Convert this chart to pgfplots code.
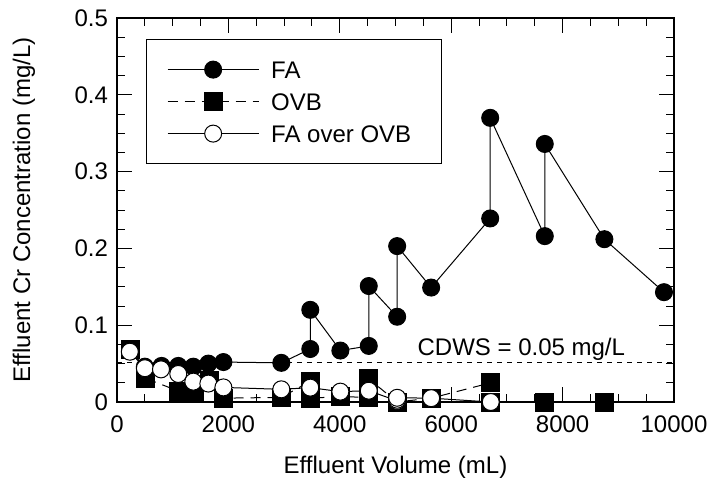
\documentclass[border=0pt]{standalone}
\usepackage{pgfplots}
\pgfplotsset{compat=1.18}
\usepackage{fontspec}
\setmainfont{Liberation Sans}

% FA column
\pgfplotstableread{
x y
240 0.066
500 0.046
800 0.047
1100 0.047
1370 0.046
1640 0.050
1910 0.052
2950 0.051
3470 0.069
3470 0.120
4010 0.067
4520 0.073
4520 0.151
5030 0.111
5030 0.203
5640 0.149
6700 0.239
6700 0.370
7680 0.216
7680 0.336
8750 0.212
9820 0.143
}\fa

% OVB column
\pgfplotstableread{
x y
240 0.069
510 0.031
1110 0.014
1400 0.013
1660 0.028
1910 0.005
2950 0.006
3470 0.027
3470 0.005
4020 0.007
4520 0.006
4520 0.030
5030 0.000
5640 0.005
6710 0.025
6710 0.000
7680 0.000
8750 0.000
}\ovb

% FA over OVB
\pgfplotstableread{
x y
230 0.0655
500 0.044
790 0.0425
1100 0.0365
1370 0.0265
1640 0.024
1910 0.019
2950 0.0165
3470 0.0187
4010 0.0135
4520 0.0147
5030 0.0015
5030 0.003
5030 0.0055
5640 0.005
6710 0.000
}\faovb

\begin{document}
\begin{tikzpicture}[font=\fontsize{12bp}{14bp}\selectfont]
\begin{axis}[
  scale only axis, width=278.5bp, height=192bp,
  xmin=0, xmax=10000, ymin=0, ymax=0.5,
  xtick={0,2000,4000,6000,8000,10000},
  xticklabels={0,2000,4000,6000,8000,10000},
  scaled x ticks=false, scaled y ticks=false,
  ytick={0,0.1,0.2,0.3,0.4,0.5},
  yticklabels={0,0.1,0.2,0.3,0.4,0.5},
  minor x tick num=3, minor y tick num=3,
  tick align=inside, major tick length=7.5bp, minor tick length=4bp,
  tick style={line width=0.5bp, black},
  axis line style={line width=0.6bp},
  /pgf/number format/assume math mode=true,
  xticklabel shift=3.5bp, yticklabel shift=1bp,
  xlabel={Effluent Volume (mL)},
  ylabel={Effluent Cr Concentration (mg/L)},
  xlabel style={at={(axis description cs:0.5,-0.185)}, anchor=base},
  ylabel style={at={(axis description cs:-0.156,0.5)}, anchor=base},
  clip=false,
  legend image code/.code={\draw[mark repeat=2,mark phase=2,#1] plot coordinates {(0bp,0bp) (22.75bp,0bp) (45.5bp,0bp)};},
  legend style={at={(axis description cs:0.052,0.945)}, anchor=north west,
    draw=black, line width=0.5bp, inner xsep=10.35bp, inner ysep=7bp,
    column sep=6bp, row sep=0pt,
    nodes={inner sep=0pt, text height=12.3bp, text depth=3.7bp}},
  legend cell align=left,
]
\coordinate (bl) at (rel axis cs:0,0);
\coordinate (tr) at (rel axis cs:1,1);
\addplot[black, line width=0.5bp, dash pattern=on 2.5bp off 2.5bp, forget plot]
  coordinates {(0,0.051) (10000,0.051)};
\node[anchor=base west, inner sep=0pt] at (axis cs:5390,0.061) {CDWS = 0.05 mg/L};
\addplot[black, line width=0.5bp, mark=*, mark size=4.25bp,
  mark options={solid, fill=black}] table {\fa};
\addlegendentry{\makebox[75bp][l]{FA}}
\addplot[black, line width=0.5bp, dash pattern=on 5bp off 3.5bp, mark=square*, mark size=4.5bp,
  mark options={solid, fill=black}] table {\ovb};
\addlegendentry{\makebox[75bp][l]{OVB}}
\addplot[black, line width=0.5bp, mark=*, mark size=4.25bp,
  mark options={solid, fill=white, draw=black, line width=0.5bp}] table {\faovb};
\addlegendentry{\makebox[75bp][l]{FA over OVB}}
\end{axis}
\pgfresetboundingbox
\path[use as bounding box] ([xshift=-58.5bp,yshift=-42.5bp]bl) rectangle ([xshift=21bp,yshift=9bp]tr);
\end{tikzpicture}
\end{document}
